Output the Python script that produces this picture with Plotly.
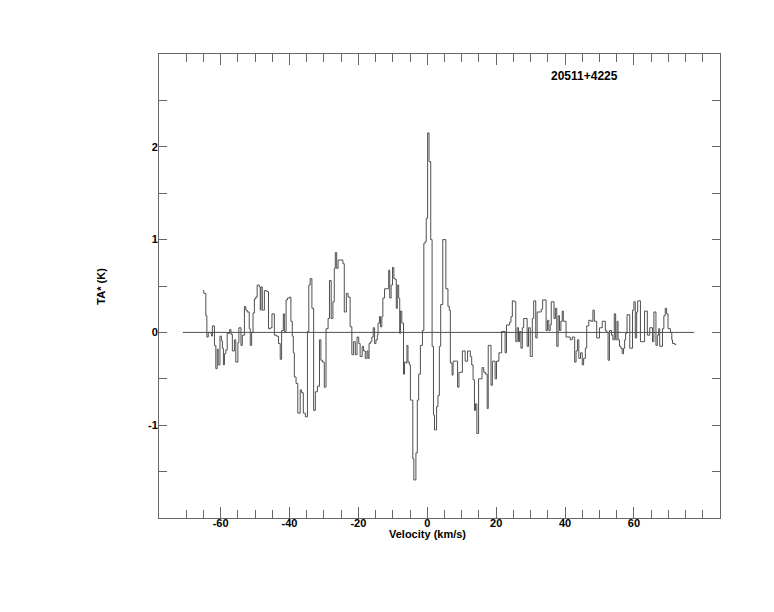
import plotly.graph_objects as go

# Channel edge velocities (km/s) and antenna temperature TA* (K)
velocity = [
    -65.2, -64.9, -64.3, -64.0, -63.6, -62.9, -62.6, -62.4, -61.8, -61.4,
    -61.0, -60.7, -60.2, -59.8, -59.5, -59.2, -58.9, -58.5, -58.1, -57.4,
    -57.0, -56.6, -56.0, -55.6, -55.0, -54.7, -54.1, -53.7, -53.1, -52.7,
    -52.3, -51.7, -51.4, -51.0, -50.6, -50.2, -49.8, -49.4, -48.8, -48.5,
    -48.3, -47.9, -47.3, -46.6, -46.1, -45.5, -45.1, -44.4, -43.8, -43.2,
    -42.7, -42.3, -41.8, -41.5, -41.0, -40.6, -40.0, -39.6, -39.2, -38.9,
    -38.6, -38.1, -37.6, -36.9, -36.5, -36.0, -35.4, -34.8, -34.4, -34.0,
    -33.5, -33.0, -32.5, -31.9, -31.3, -30.9, -30.4, -29.9, -29.4, -28.8,
    -28.4, -27.9, -27.4, -27.0, -26.7, -26.3, -25.9, -25.3, -24.5, -24.1,
    -23.5, -23.0, -22.4, -21.9, -21.4, -20.9, -20.4, -19.9, -19.5, -18.9,
    -18.5, -18.0, -17.5, -17.2, -16.9, -16.5, -16.1, -15.7, -15.3, -14.9,
    -14.5, -14.3, -13.9, -13.6, -13.2, -12.9, -12.4, -11.7, -11.2, -10.9,
    -10.5, -10.1, -9.7, -9.3, -9.0, -8.7, -8.3, -8.0, -7.8, -7.4,
    -6.9, -6.6, -6.2, -5.9, -5.6, -5.2, -4.9, -4.5, -4.2, -3.9,
    -3.5, -3.3, -2.9, -2.5, -2.0, -1.4, -1.0, -0.6, -0.3, 0.1,
    0.5, 1.0, 1.4, 1.8, 2.1, 2.5, 2.7, 3.1, 3.5, 3.9,
    4.5, 5.2, 5.4, 6.0, 6.4, 6.7, 7.2, 7.5, 8.4, 8.8,
    9.2, 10.2, 11.0, 11.7, 12.5, 12.9, 13.3, 13.7, 14.0, 14.4,
    14.9, 15.9, 16.4, 16.9, 17.4, 17.7, 18.5, 18.9, 19.7, 20.1,
    20.8, 21.6, 22.6, 23.0, 23.9, 24.3, 24.7, 25.3, 25.7, 26.1,
    26.5, 26.8, 27.2, 27.6, 28.0, 29.0, 29.4, 29.9, 30.5, 30.9,
    31.5, 31.9, 33.1, 33.5, 34.5, 34.9, 35.3, 35.7, 36.0, 36.8,
    37.2, 37.6, 38.0, 38.4, 38.8, 39.2, 39.5, 40.3, 41.5, 42.1,
    42.8, 43.2, 43.6, 44.0, 44.5, 45.0, 45.4, 45.9, 46.3, 46.9,
    47.5, 48.1, 48.5, 49.2, 50.0, 50.8, 51.7, 52.1, 52.5, 52.9,
    53.5, 53.9, 54.3, 54.7, 55.1, 55.4, 55.8, 56.2, 56.6, 57.0,
    57.3, 57.6, 58.0, 58.8, 59.6, 60.0, 60.4, 60.8, 61.1, 61.9,
    63.1, 63.9, 64.6, 65.4, 65.8, 66.4, 66.8, 67.2, 67.5, 68.3,
    68.7, 69.1, 69.5, 69.9, 70.6, 71.0, 71.2, 71.9, 72.3,
]
ta = [
    0.45, 0.42, 0.18, -0.05, 0.00, -0.01, -0.04, 0.07, -0.14, -0.39,
    -0.18, -0.35, -0.04, -0.09, -0.17, -0.35, -0.23, -0.19, -0.01, 0.03,
    -0.02, -0.20, -0.08, -0.32, -0.11, 0.05, -0.14, -0.03, 0.28, 0.24,
    0.22, 0.04, -0.14, 0.00, 0.21, 0.36, 0.38, 0.51, 0.49, 0.24,
    0.49, 0.24, 0.45, 0.44, 0.04, 0.05, 0.20, -0.03, -0.04, -0.12,
    -0.29, 0.02, 0.20, 0.01, 0.35, 0.37, 0.38, 0.12, -0.04, -0.22,
    -0.48, -0.55, -0.87, -0.62, -0.65, -0.87, -0.91, 0.01, 0.51, 0.58,
    0.26, -0.84, -0.64, -0.58, -0.08, -0.30, -0.32, -0.59, 0.04, 0.15,
    0.56, 0.15, 0.33, 0.69, 0.86, 0.69, 0.78, 0.78, 0.74, 0.22,
    0.42, 0.38, 0.06, -0.24, -0.10, -0.24, -0.05, -0.12, -0.26, -0.15,
    -0.20, -0.28, -0.20, -0.28, -0.12, -0.10, -0.05, 0.05, -0.12, -0.08,
    -0.03, 0.10, 0.17, 0.06, 0.17, 0.37, 0.47, 0.47, 0.67, 0.37,
    0.51, 0.70, 0.58, 0.57, 0.26, 0.51, 0.37, -0.01, 0.23, 0.10,
    -0.45, -0.32, -0.33, -0.14, -0.32, -0.35, -0.73, -0.73, -1.36, -1.59,
    -1.59, -1.30, -0.73, -0.45, -0.14, 0.02, 0.96, 0.98, 1.23, 2.15,
    1.84, 1.00, -0.15, -0.89, -1.05, -1.05, -0.80, -0.68, -0.15, 0.30,
    1.00, 1.00, 0.47, 0.28, 0.24, -0.33, -0.46, -0.31, -0.31, -0.59,
    -0.43, -0.20, -0.31, -0.20, -0.26, -0.35, -0.51, -0.84, -0.77, -1.09,
    -0.50, -0.38, -0.43, -0.45, -0.82, -0.14, -0.57, -0.31, -0.50, -0.31,
    -0.22, 0.01, -0.22, 0.08, 0.11, 0.17, 0.34, 0.33, -0.10, 0.05,
    -0.10, 0.01, -0.17, 0.05, 0.15, -0.15, 0.05, -0.26, 0.15, 0.34,
    -0.06, 0.22, 0.25, 0.35, 0.02, 0.13, 0.02, 0.08, 0.33, 0.15,
    0.26, -0.15, 0.18, 0.02, 0.12, 0.23, 0.12, -0.05, -0.08, -0.05,
    -0.32, -0.20, -0.08, -0.28, -0.22, -0.35, -0.28, -0.17, 0.07, 0.13,
    0.12, 0.24, 0.12, -0.06, 0.05, 0.12, 0.02, 0.00, -0.30, 0.02,
    -0.03, -0.08, 0.20, -0.08, 0.12, -0.08, -0.15, -0.17, -0.23, -0.17,
    -0.08, -0.01, 0.19, -0.17, 0.24, 0.33, -0.06, 0.22, 0.34, -0.10,
    0.23, -0.03, 0.05, -0.10, 0.22, -0.14, -0.03, 0.04, -0.15, 0.04,
    0.18, 0.26, 0.20, 0.04, 0.00, -0.08, -0.12, -0.13, -0.13,
]

baseline_v = [-71.0, 77.5]
baseline_ta = [0.0, 0.0]

source_name = "20511+4225"
x_title = "Velocity (km/s)"
y_title = "TA* (K)"
x_major = [-60, -40, -20, 0, 20, 40, 60]
x_labels = ["-60", "-40", "-20", "0", "20", "40", "60"]
x_minor = list(range(-70, 85, 5))
y_major = [-1, 0, 1, 2]
y_labels = ["-1", "0", "1", "2"]

LINE = "#4f4f4f"
AXIS = "#666666"
FONT = dict(family="Liberation Sans, Arial, sans-serif", size=11, color="black", weight="bold")

fig = go.Figure()
fig.add_trace(go.Scatter(x=baseline_v, y=baseline_ta, mode="lines",
                         line=dict(color=LINE, width=1), hoverinfo="skip"))
fig.add_trace(go.Scatter(x=velocity, y=ta, mode="lines",
                         line=dict(color=LINE, width=1, shape="hv")))

fig.update_layout(
    width=774, height=612,
    margin=dict(l=159, r=54, t=54, b=94),
    plot_bgcolor="white", paper_bgcolor="white",
    showlegend=False,
    font=FONT,
)
fig.update_xaxes(
    range=[-77.9, 85.0], tickmode="array", tickvals=x_major, ticktext=x_labels,
    ticks="inside", ticklen=11, tickwidth=1, tickcolor=AXIS,
    showline=True, linecolor=AXIS, linewidth=1, mirror="ticks",
    showgrid=False, zeroline=False, tickfont=FONT, ticklabelstandoff=-5,
    minor=dict(tickmode="array", tickvals=x_minor, ticks="inside", ticklen=8,
               tickwidth=1, tickcolor=AXIS, showgrid=False),
)
fig.update_yaxes(
    range=[-2, 3], tickmode="array", tickvals=y_major, ticktext=y_labels,
    ticks="inside", ticklen=8, tickwidth=1, tickcolor=AXIS,
    showline=True, linecolor=AXIS, linewidth=1, mirror="ticks",
    showgrid=False, zeroline=False, tickfont=FONT, ticklabelstandoff=-2,
    minor=dict(tickmode="linear", tick0=0, dtick=0.5, ticks="inside", ticklen=8,
               tickwidth=1, tickcolor=AXIS, showgrid=False),
)

fig.add_annotation(text=source_name, xref="paper", yref="paper", x=0.759, y=0.953,
                   showarrow=False, font=dict(FONT, size=12), xanchor="center", yanchor="middle")
fig.add_annotation(text=x_title, xref="paper", yref="paper", x=0.478, y=-0.0345,
                   showarrow=False, font=FONT, xanchor="center", yanchor="middle")
fig.add_annotation(text=y_title, xref="paper", yref="paper", x=-0.104, y=0.5,
                   showarrow=False, font=FONT, textangle=-90, xanchor="center", yanchor="middle")

fig.write_html("out.html", config={"displayModeBar": False},
               post_script="document.body.style.margin='0';document.body.style.overflow='hidden';")
